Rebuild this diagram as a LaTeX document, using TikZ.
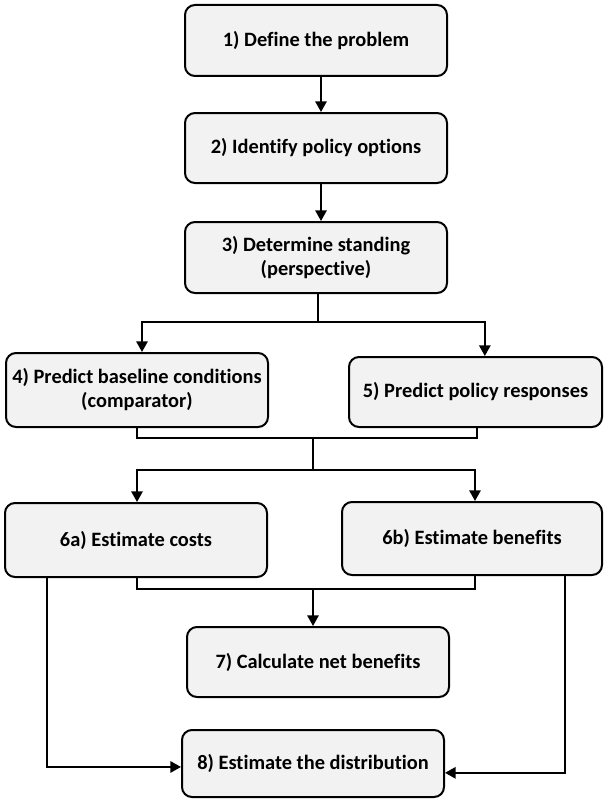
\documentclass[tikz,border=0pt]{standalone}
\usepackage{fontspec}
\setmainfont[Ligatures={NoCommon}]{Carlito}
\usetikzlibrary{arrows.meta}
\definecolor{boxfill}{HTML}{F2F2F2}
\tikzset{
  box/.style={draw=black, fill=boxfill, line width=1.5pt, rounded corners=7.5pt,
    align=center, font=\fontsize{15.3}{18}\selectfont\bfseries, inner sep=2pt},
  conn/.style={draw=black, line width=1.5pt},
  arr/.style={conn, -{Triangle[length=8pt,width=8.5pt]}}
}
\begin{document}
\begin{tikzpicture}[x=0.75pt, y=-0.75pt]
\useasboundingbox (0,0) rectangle (603,799);
\node[box, minimum width=196.5pt, minimum height=53.25pt] (b1) at (316,40.5) {1) Define the problem};
\node[box, minimum width=196.5pt, minimum height=52.5pt] (b2) at (316,148) {2) Identify policy options};
\node[box, minimum width=196.5pt, minimum height=53.25pt] (b3) at (316,257.5) {3) Determine standing\\(perspective)};
\node[box, minimum width=196.5pt, minimum height=55.5pt] (b4) at (137,390) {4) Predict baseline conditions\\(comparator)};
\node[box, minimum width=189.75pt, minimum height=52.5pt] (b5) at (475.5,392) {5) Predict policy responses};
\node[box, minimum width=196.5pt, minimum height=55.5pt] (b6a) at (136,540) {6a) Estimate costs};
\node[box, minimum width=195pt, minimum height=54.75pt] (b6b) at (472,538.5) {6b) Estimate benefits};
\node[box, minimum width=196.5pt, minimum height=52.5pt] (b7) at (318,662) {7) Calculate net benefits};
\node[box, minimum width=196.5pt, minimum height=50.25pt] (b8) at (313,763.5) {8) Estimate the distribution};

\coordinate (j1) at (318,322);
\coordinate (j2) at (313,438);
\coordinate (j3) at (313,470);
\coordinate (j4) at (313,589);

\draw[arr] ([xshift=3.75pt]b1.south) -- ([xshift=3.75pt]b2.north);
\draw[arr] ([xshift=3.75pt]b2.south) -- ([xshift=3.75pt]b3.north);
\draw[conn] ([xshift=1.5pt]b3.south) -- (j1);
\draw[arr] (j1) -| ([xshift=3.75pt]b4.north);
\draw[arr] (j1) -| ([xshift=7pt]b5.north);
\draw[conn] (b4.south) |- (j2);
\draw[conn] ([xshift=1pt]b5.south) |- (j2);
\draw[conn] (j2) -- (j3);
\draw[arr] (j3) -| ([xshift=0.75pt]b6a.north);
\draw[arr] (j3) -| ([xshift=2.25pt]b6b.north);
\draw[conn] ([xshift=0.75pt]b6a.south) |- (j4);
\draw[conn] ([xshift=2.25pt]b6b.south) |- (j4);
\draw[arr] (j4) -- (j4 |- b7.north);
\draw[arr] ([xshift=-66.75pt]b6a.south) |- ([yshift=-2.6pt]b8.west);
\draw[arr] ([xshift=69.75pt]b6b.south) |- ([yshift=-7pt]b8.east);
\end{tikzpicture}
\end{document}
